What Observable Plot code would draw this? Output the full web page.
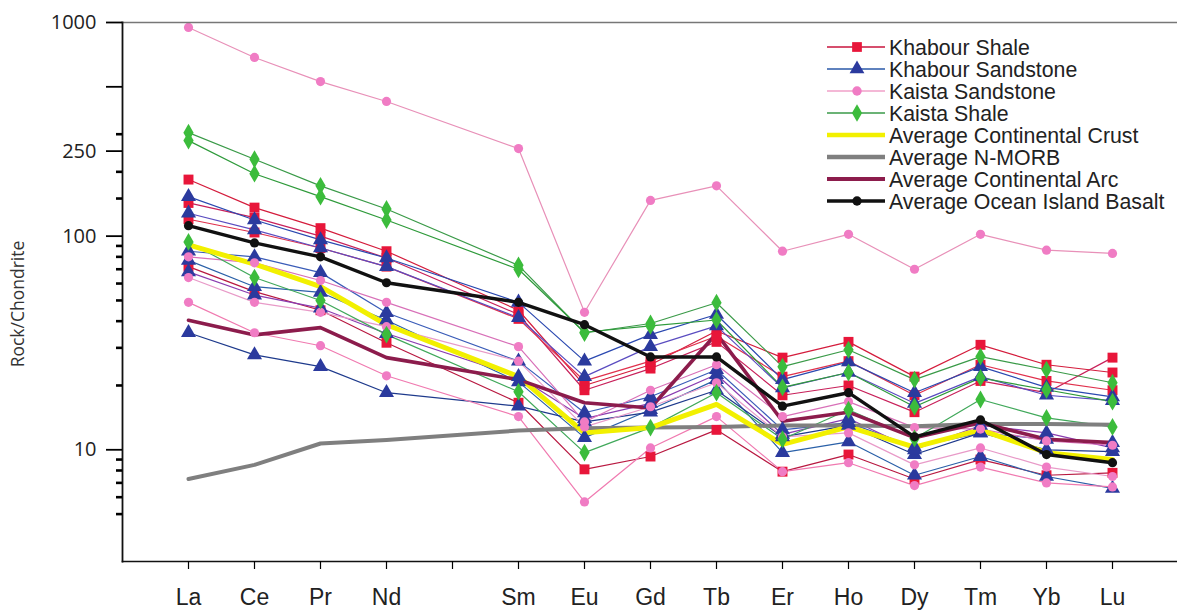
<!DOCTYPE html>
<html><head><meta charset="utf-8">
<script src="https://cdn.jsdelivr.net/npm/d3@7"></script>
<script src="https://cdn.jsdelivr.net/npm/@observablehq/plot@0.6"></script>
<style>
html,body{margin:0;padding:0;background:#fff;}
#wrap{position:relative;width:1177px;height:613px;}
#overlay{position:absolute;left:0;top:0;pointer-events:none;}
</style></head><body><div id="wrap"></div>
<script>
// ---- categories & ticks ----
const elements = ["La","Ce","Pr","Nd","Pm","Sm","Eu","Gd","Tb","Er","Ho","Dy","Tm","Yb","Lu"];
const plotted  = ["La","Ce","Pr","Nd","Sm","Eu","Gd","Tb","Er","Ho","Dy","Tm","Yb","Lu"];
const yTicks = [1000, 500, 250, 100, 10];
const yMinorTicks = [150, 200, 300, 20, 30, 40, 50, 60, 70, 80, 90, 5, 6, 7, 8, 9];
const yLabel = "Rock/Chondrite";

// ---- Khabour Shale samples (La..Lu) ----
const khabourShale1 = [184, 136, 109, 85, 45, 20, 25, 36, 27, 32, 22, 31, 25, 23];
const khabourShale2 = [143, 122, 100, 79, 43, 19, 24, 32, 18, 20, 15, 21, 18.5, 27];
const khabourShale3 = [120, 104, 88, 72, 41, 21, 26, 34, 22, 26, 18, 25, 21, 19];
const khabourShale4 = [72, 55, 45, 31.7, 16.6, 8.1, 9.3, 12.4, 7.9, 9.5, 7.3, 9.0, 7.6, 7.8];

// ---- Khabour Sandstone samples ----
const khabourSandstone1 = [153, 119, 96, 79, 49, 26, 34.6, 43, 21.3, 25.8, 18.5, 24.5, 19.6, 17.7];
const khabourSandstone2 = [128, 107, 88, 72, 41.5, 22, 30.4, 38, 19.5, 23, 16.5, 22, 18, 17];
const khabourSandstone3 = [85, 80, 67.5, 43.8, 26, 14.9, 17.7, 23.7, 12.4, 13.4, 10.3, 12, 11.2, 10.8];
const khabourSandstone4 = [77, 58, 54.5, 40.4, 20.8, 11.4, 15.4, 21.3, 9.7, 10.9, 7.6, 9.3, 7.5, 6.6];
const khabourSandstone5 = [35.3, 27.8, 24.5, 18.5, 16, 13.5, 15, 19, 11.5, 13, 9.5, 12, 10, 9.8];
const khabourSandstone6 = [68, 53, 46, 35, 22, 14, 16.5, 22.5, 11.8, 14, 10, 13, 12, 10.2];

// ---- Kaista Sandstone samples ----
const kaistaSandstone1 = [948, 686, 529, 427, 257, 44, 147, 172, 85, 102, 70, 102, 86, 83];
const kaistaSandstone2 = [49, 35.3, 30.7, 22.2, 14.3, 5.7, 10.2, 14.3, 7.9, 8.7, 6.8, 8.3, 7.0, 6.7];
const kaistaSandstone3 = [64, 49, 44, 37.7, 26, 12.8, 15.9, 20.6, 11.5, 12, 8.5, 10.2, 8.3, 7.5];
const kaistaSandstone4 = [80, 75, 62, 49, 30.4, 13.5, 19, 25, 14.3, 16.8, 12.7, 12.5, 11, 10.5];

// ---- Kaista Shale samples ----
const kaistaShale1 = [305, 229, 172, 134, 73, 35.2, 39, 48.8, 24.5, 29.4, 21.3, 27.3, 23.7, 20.6];
const kaistaShale2 = [280, 196, 153, 119, 70, 35.5, 38, 40.5, 19.6, 23, 15.9, 21.7, 19.1, 16.8];
const kaistaShale3 = [94, 64, 50, 34.6, 18.7, 9.7, 12.7, 18.5, 11.2, 15.4, 11.3, 17.2, 14.1, 12.8];

// ---- reference compositions ----
const avgContinentalCrust = [91, 74, 58, 38.5, 22, 12, 12.7, 16.3, 10.6, 12.8, 10.3, 12.4, 9.7, 9.0];
const avgNMORB = [7.3, 8.5, 10.7, 11.1, 12.3, 12.6, 12.7, 12.8, 13, 13, 12.9, 13.2, 13.2, 13.1];
const avgContinentalArc = [40.4, 34.5, 37.3, 27, 21.3, 16.6, 15.7, 35, 13.6, 15, 11.4, 13.4, 11.2, 10.8];
const avgOIB = [112, 93, 80, 60.5, 49, 38.5, 27.2, 27.2, 16, 18.5, 11.5, 13.8, 9.5, 8.7];

const legendNames = ["Khabour Shale","Khabour Sandstone","Kaista Sandstone","Kaista Shale",
  "Average Continental Crust","Average N-MORB","Average Continental Arc","Average Ocean Island Basalt"];

// ---- styles ----
const groups = [
  {series:[khabourShale1,khabourShale2,khabourShale3,khabourShale4], symbol:"square", fill:"#e8163a", r:5.6,
   lines:["#d41c3c","#c8205a","#e0304c","#b81840"]},
  {series:[khabourSandstone1,khabourSandstone2,khabourSandstone3,khabourSandstone4,khabourSandstone5,khabourSandstone6], symbol:"triangle", fill:"#2b3a9e", r:5.6,
   lines:["#2a48b0","#5a4cc0","#3a5cb8","#2a60a8","#1e3a8c","#8a3cb0"]},
  {series:[kaistaSandstone1,kaistaSandstone2,kaistaSandstone3,kaistaSandstone4], symbol:"circle", fill:"#f07cc4", r:4.6,
   lines:["#e890b8","#f07ab0","#e89ac8","#d870b8"]},
  {series:[kaistaShale1,kaistaShale2,kaistaShale3], symbol:"diamond", fill:"#3cbc3c", r:5.4,
   lines:["#3a9a48","#2e9a3a","#40a85a"]}
];
const rows = vals => plotted.map((e, i) => ({e, v: vals[i]}));

const marks = [];
// sample lines
groups.forEach(g => g.series.forEach((s, i) =>
  marks.push(Plot.line(rows(s), {x:"e", y:"v", stroke:g.lines[i % g.lines.length], strokeWidth:1.2}))));
// reference lines
marks.push(Plot.line(rows(avgNMORB), {x:"e", y:"v", stroke:"#7f7f7f", strokeWidth:4}));
marks.push(Plot.line(rows(avgContinentalCrust), {x:"e", y:"v", stroke:"#f2f000", strokeWidth:5}));
marks.push(Plot.line(rows(avgContinentalArc), {x:"e", y:"v", stroke:"#8c1c4c", strokeWidth:3.6}));
// sample markers
groups.forEach(g => g.series.forEach(s =>
  marks.push(Plot.dot(rows(s), {x:"e", y:"v", symbol:g.symbol, fill:g.fill, r:g.r}))));
// OIB
marks.push(Plot.line(rows(avgOIB), {x:"e", y:"v", stroke:"#111", strokeWidth:3.4}));
marks.push(Plot.dot(rows(avgOIB), {x:"e", y:"v", symbol:"circle", fill:"#111", r:4.6}));

// axes & frame
marks.push(Plot.frame({anchor:"top", stroke:"#777", strokeWidth:1.5}));
marks.push(Plot.frame({anchor:"left", stroke:"#111", strokeWidth:1.8}));
marks.push(Plot.frame({anchor:"bottom", stroke:"#111", strokeWidth:1.6}));
marks.push(Plot.axisY({ticks:yMinorTicks, tickSize:6, strokeWidth:2.6, tickFormat:() => "", label:null}));
marks.push(Plot.axisY({ticks:yTicks, tickSize:16, tickPadding:10, strokeWidth:1.8, tickFormat:d => String(d),
  fontSize:20, label:null, fill:"#222", fontFamily:"'Open Sans', 'Liberation Sans', sans-serif"}));
marks.push(Plot.axisX({tickSize:8, tickPadding:19, strokeWidth:1.2, tickFormat:d => d === "Pm" ? "" : d,
  fontSize:23, label:null, fill:"#222", fontFamily:"'Liberation Sans Narrow', 'Liberation Sans', sans-serif"}));

const chart = Plot.plot({
  width:1177, height:613,
  marginLeft:122, marginRight:0, marginTop:22, marginBottom:52,
  x:{type:"point", domain:elements, range:[186, 1114], padding:0, label:null},
  y:{type:"log", domain:[3, 1000], label:null},
  style:{fontFamily:"'Liberation Sans', Arial, sans-serif", background:"white", overflow:"visible"},
  marks
});
document.getElementById("wrap").appendChild(chart);

// ---- overlay: y label and legend ----
const svg = d3.select("#wrap").append("svg").attr("id","overlay").attr("width",1177).attr("height",613)
  .style("font-family","'Liberation Sans', Arial, sans-serif");
svg.append("text").attr("transform","translate(24,304) rotate(-90)").attr("text-anchor","middle")
  .attr("font-size",17.5).attr("fill","#333").style("font-family","'Open Sans', 'Liberation Sans', sans-serif")
  .text(yLabel);

const legendStyles = [
  {line:"#c8143c", w:1.3, symbol:d3.symbolSquare, fill:"#e8163a", size:95},
  {line:"#2a58a8", w:1.3, symbol:d3.symbolTriangle, fill:"#2b3a9e", size:95},
  {line:"#f0a0c8", w:1.3, symbol:d3.symbolCircle, fill:"#f07cc4", size:70},
  {line:"#3a9a48", w:1.3, symbol:d3.symbolDiamond, fill:"#3cbc3c", size:90},
  {line:"#f2f000", w:4.5},
  {line:"#7f7f7f", w:4.5},
  {line:"#8c1c4c", w:4},
  {line:"#111", w:3.4, symbol:d3.symbolCircle, fill:"#111", size:70}
];
legendNames.forEach((name, i) => {
  const y = 47 + i * 22;
  const st = legendStyles[i];
  const g = svg.append("g");
  g.append("line").attr("x1",827).attr("x2",885).attr("y1",y).attr("y2",y)
    .attr("stroke",st.line).attr("stroke-width",st.w);
  if (st.symbol) g.append("path").attr("d", d3.symbol(st.symbol, st.size)())
    .attr("transform",`translate(857,${y})`).attr("fill",st.fill);
  g.append("text").attr("x",889).attr("y",y).attr("dy","0.36em").attr("font-size",21.3)
    .attr("fill","#222").text(name);
});
</script></body></html>
